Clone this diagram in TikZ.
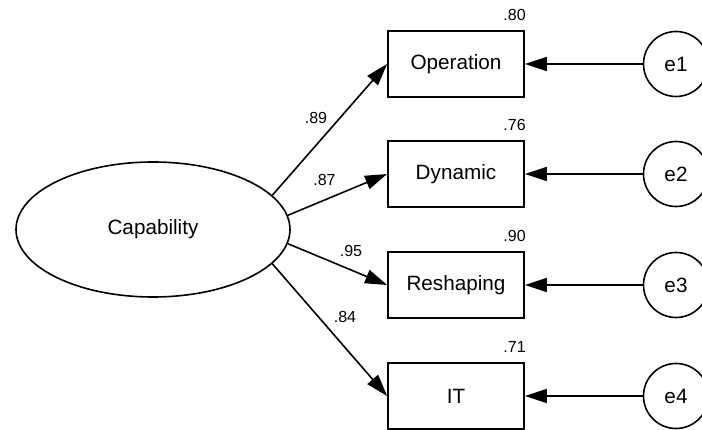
\documentclass[tikz,border=0pt]{standalone}
\usepackage{fontspec}
\setmainfont{Liberation Sans}
\usetikzlibrary{arrows.meta,calc,shapes.geometric}
\begin{document}
\begin{tikzpicture}[x=1pt,y=-1pt,
  every node/.style={font=\fontsize{20.7}{24}\selectfont, text=black},
  latent/.style={draw, ellipse, line width=1.6pt, minimum width=274pt, minimum height=135pt, inner sep=0pt},
  indicator/.style={draw, rectangle, line width=1.8pt, minimum width=136pt, minimum height=66pt, inner sep=0pt},
  errterm/.style={draw, circle, line width=1.6pt, minimum size=65pt, inner sep=0pt},
  coef/.style={font=\fontsize{16}{19}\selectfont, inner sep=0pt},
  semarrow/.style={line width=1.6pt, -{Triangle[length=22pt,width=14pt]}}
]
\useasboundingbox (0,0) rectangle (702,430);

% latent factor
\node[latent] (cap) at (153,229.5) {Capability};

% observed indicators
\node[indicator] (op)  at (456,64)  {Operation};
\node[indicator] (dyn) at (456,174) {Dynamic};
\node[indicator] (res) at (456,285) {Reshaping};
\node[indicator] (it)  at (456,396) {IT};

% error terms
\node[errterm] (e1) at (676,64)  {e1};
\node[errterm] (e2) at (676,174) {e2};
\node[errterm] (e3) at (676,285) {e3};
\node[errterm] (e4) at (676,396) {e4};

% loadings
\draw[semarrow] (cap.16)  -- (op.west);
\draw[semarrow] (cap.6.5) -- (dyn.west);
\draw[semarrow] (cap.-6)  -- (res.west);
\draw[semarrow] (cap.-16) -- (it.west);

% error paths
\draw[semarrow] (e1) -- (op.east);
\draw[semarrow] (e2) -- (dyn.east);
\draw[semarrow] (e3) -- (res.east);
\draw[semarrow] (e4) -- (it.east);

% standardized loadings
\node[coef] (l1) at (316,118) {.89};
\node[coef] (l2) at (324.5,180) {.87};
\node[coef] (l3) at (351,251) {.95};
\node[coef] (l4) at (345,316.5) {.84};

% squared multiple correlations
\node[coef, anchor=east] (r1) at ([xshift=1pt,yshift=15pt]op.north east)  {.80};
\node[coef, anchor=east] (r2) at ([xshift=1pt,yshift=15pt]dyn.north east) {.76};
\node[coef, anchor=east] (r3) at ([xshift=1pt,yshift=15pt]res.north east) {.90};
\node[coef, anchor=east] (r4) at ([xshift=1pt,yshift=15pt]it.north east)  {.71};
\end{tikzpicture}
\end{document}
